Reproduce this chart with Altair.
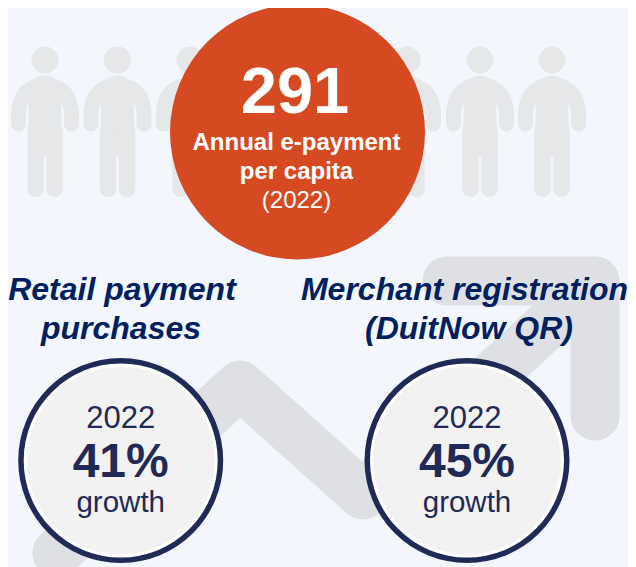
import altair as alt
import pandas as pd

W, H = 628, 567
BG = "#f3f6fc"
NAVY = "#1f2a56"
TITLE = "#002060"
FONT = "Liberation Sans"

xs = alt.Scale(domain=[8, W], range=[0, W - 8], nice=False, zero=False, clamp=False)
ys = alt.Scale(domain=[8, H], range=[0, H - 8], nice=False, zero=False, clamp=False)
X = lambda: alt.X("x:Q", scale=xs, axis=None)
Y = lambda: alt.Y("y:Q", scale=ys, axis=None)

# background arrow
arrow_x = [57, 240, 363, 595]
arrow_y = [553, 385, 495, 281]
head_x = [447, 595, 595]
head_y = [281, 281, 416]

# people
people_x = [45, 117.5, 190, 407, 480, 552]
head_cy = 60
head_d = 27
arm_dx = [-26.5, -26.5, -23, -13, 0, 13, 23, 26.5, 26.5]
arm_y = [124, 112, 98, 88, 85, 88, 98, 112, 124]
trunk_y = [92, 140]
leg_dx = [-9.5, 9.5]
leg_y = [130, 189]

# circles
badge_x = [120.7, 467]
badge_y = [460.5, 460.5]
badge_layers = [(205, NAVY), (194, "#ffffff"), (188, "#f2f2f2")]
big_x, big_y, big_d = 297.5, 132, 255


def line(xv, yv, width, color, interpolate="linear"):
    df = pd.DataFrame({"x": xv, "y": yv, "o": range(len(xv))})
    return alt.Chart(df).mark_line(
        strokeWidth=width, color=color, strokeCap="round", strokeJoin="round",
        interpolate=interpolate, clip=False,
    ).encode(x=X(), y=Y(), order="o:Q")


def dots(xv, yv, d, color):
    df = pd.DataFrame({"x": xv, "y": yv})
    return alt.Chart(df).mark_circle(size=d * d, color=color, opacity=1, clip=False).encode(x=X(), y=Y())


def text(label, x, y, size, color, weight="normal", style="normal"):
    df = pd.DataFrame({"x": [x], "y": [y], "t": [label]})
    return alt.Chart(df).mark_text(
        font=FONT, fontSize=size, color=color, fontWeight=weight, fontStyle=style,
        align="center", baseline="alphabetic",
    ).encode(x=X(), y=Y(), text="t:N")


layers = []
layers.append(line(arrow_x, arrow_y, 49, "#dfe0e3"))
layers.append(line(head_x, head_y, 49, "#dfe0e3"))

PERSON = "#e6e7e9"
for px in people_x:
    layers.append(dots([px], [head_cy], head_d, PERSON))
    layers.append(line([px + d for d in arm_dx], arm_y, 15, PERSON, "monotone"))
    layers.append(line([px, px], trunk_y, 33, PERSON))
    for d in leg_dx:
        layers.append(line([px + d, px + d], leg_y, 16.5, PERSON))

layers.append(dots([big_x], [big_y], big_d, "#d54a20"))
for d, c in badge_layers:
    layers.append(dots(badge_x, badge_y, d, c))

layers += [
    text("291", 295, 113, 65, "#ffffff", "bold"),
    text("Annual e-payment", 296.5, 150, 24, "#ffffff", "bold"),
    text("per capita", 296.5, 179, 24, "#ffffff", "bold"),
    text("(2022)", 296.5, 208, 24, "#ffffff"),
    text("Retail payment", 122, 300, 32, TITLE, "bold", "italic"),
    text("purchases", 121, 339, 32, TITLE, "bold", "italic"),
    text("Merchant registration", 464.5, 300, 32, TITLE, "bold", "italic"),
    text("(DuitNow QR)", 469, 339, 32, TITLE, "bold", "italic"),
]
for cx, pct in zip(badge_x, ["41%", "45%"]):
    layers += [
        text("2022", cx, 428, 31, NAVY),
        text(pct, cx, 477, 48, NAVY, "bold"),
        text("growth", cx, 512, 29.5, NAVY),
    ]

chart = alt.layer(*layers).properties(
    width=W - 8, height=H - 8, background=BG, padding=0,
    autosize=alt.AutoSizeParams(type="none"),
).configure_view(stroke=None, fill=BG)

chart.save("out.html", embed_options={"renderer": "svg", "actions": False})
